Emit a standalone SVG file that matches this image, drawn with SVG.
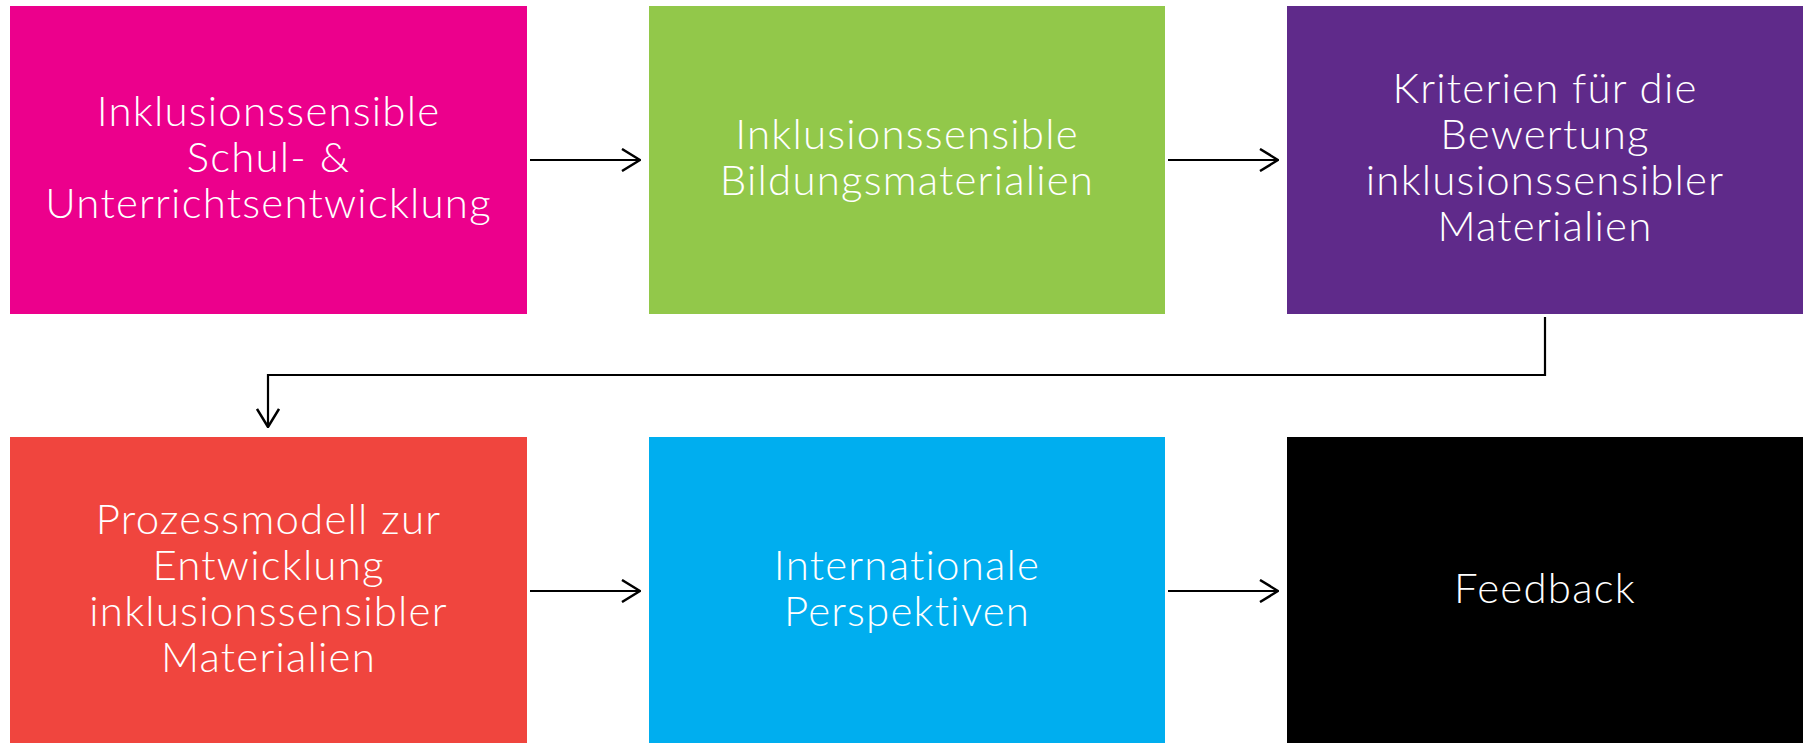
<svg xmlns="http://www.w3.org/2000/svg" width="1812" height="743" viewBox="0 0 1812 743">
<style>
.t{font-family:Lato,"Noto Sans","Liberation Sans",sans-serif;font-weight:300;font-size:42px;letter-spacing:1.2px;fill:#fff;text-anchor:middle}
.c{fill:none;stroke:#000;stroke-width:2.2}
</style>
<defs>
<marker id="ah" viewBox="0 0 20 24" refX="19" refY="12" markerWidth="20" markerHeight="24" markerUnits="userSpaceOnUse" orient="auto">
<path d="M1 1 L19 12 L1 23" fill="none" stroke="#000" stroke-width="2.5"/>
</marker>
</defs>
<rect width="1812" height="743" fill="#fff"/>
<g id="n1"><rect x="10" y="6" width="517" height="308" fill="#EC008C"/>
<text class="t" x="268.5" y="126">Inklusionssensible</text>
<text class="t" x="268.5" y="172">Schul- &amp;</text>
<text class="t" x="268.5" y="218">Unterrichtsentwicklung</text></g>
<g id="n2"><rect x="649" y="6" width="516" height="308" fill="#92C84A"/>
<text class="t" x="907" y="149">Inklusionssensible</text>
<text class="t" x="907" y="195">Bildungsmaterialien</text></g>
<g id="n3"><rect x="1287" y="6" width="516" height="308" fill="#5F2A8A"/>
<text class="t" x="1545" y="103">Kriterien für die</text>
<text class="t" x="1545" y="149">Bewertung</text>
<text class="t" x="1545" y="195">inklusionssensibler</text>
<text class="t" x="1545" y="241">Materialien</text></g>
<g id="n4"><rect x="10" y="437" width="517" height="308" fill="#F0453E"/>
<text class="t" x="268.5" y="534">Prozessmodell zur</text>
<text class="t" x="268.5" y="580">Entwicklung</text>
<text class="t" x="268.5" y="626">inklusionssensibler</text>
<text class="t" x="268.5" y="672">Materialien</text></g>
<g id="n5"><rect x="649" y="437" width="516" height="308" fill="#00AEEF"/>
<text class="t" x="907" y="580">Internationale</text>
<text class="t" x="907" y="626">Perspektiven</text></g>
<g id="n6"><rect x="1287" y="437" width="516" height="308" fill="#000"/>
<text class="t" x="1545" y="603">Feedback</text></g>
<g id="connectors">
<path class="c" d="M530 160 H640" marker-end="url(#ah)"/>
<path class="c" d="M1168 160 H1278" marker-end="url(#ah)"/>
<path class="c" d="M1545 317 V375 H268 V427" marker-end="url(#ah)"/>
<path class="c" d="M530 591 H640" marker-end="url(#ah)"/>
<path class="c" d="M1168 591 H1278" marker-end="url(#ah)"/>
</g>
</svg>
